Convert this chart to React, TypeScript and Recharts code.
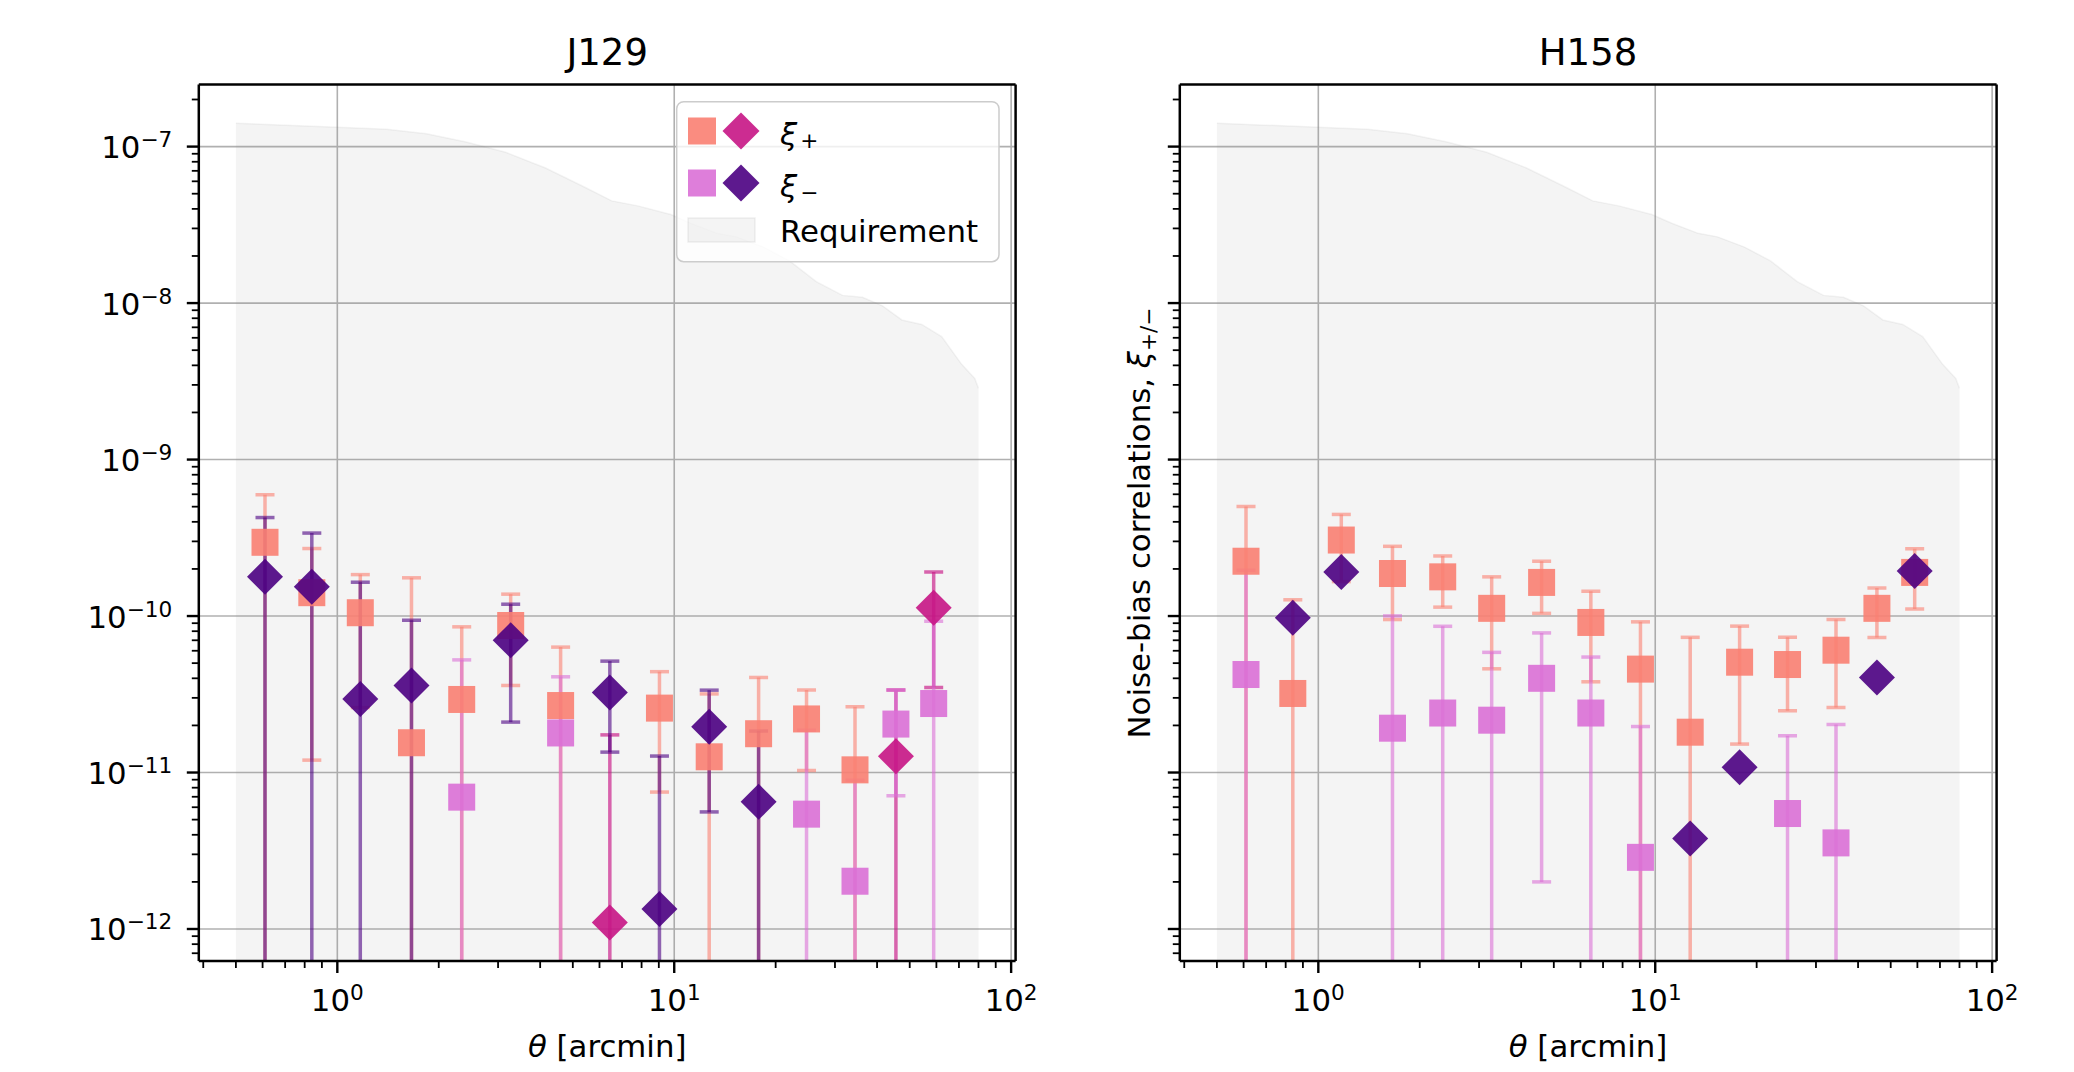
import React from 'react';
import { ComposedChart, Scatter, Area, XAxis, YAxis, CartesianGrid, ErrorBar, ReferenceLine } from 'recharts';

// ---------------- data ----------------
const THETA = [0.61, 0.84, 1.17, 1.66, 2.34, 3.27, 4.6, 6.44, 9.04, 12.7, 17.8, 24.7, 34.4, 45.5, 58.9];

// J129 (signed values: negative values are drawn as diamonds at |value|)
const J129_XI_PLUS = [2.96e-10, 1.41e-10, 1.05e-10, 1.55e-11, 2.93e-11, 8.7e-11, 2.68e-11, -1.1e-12, 2.58e-11, 1.26e-11, 1.77e-11, 2.2e-11, 1.04e-11, -1.27e-11, -1.13e-10];
const J129_XI_PLUS_ERR = [3.0e-10, 1.29e-10, 7.9e-11, 1.6e-10, 5.6e-11, 5.1e-11, 3.65e-11, 1.63e-11, 1.83e-11, 1.92e-11, 2.28e-11, 1.17e-11, 1.59e-11, 2.1e-11, 7.8e-11];
const J129_XI_MINUS = [-1.78e-10, -1.54e-10, -2.95e-11, -3.6e-11, 6.96e-12, -7.0e-11, 1.79e-11, -3.25e-11, -1.34e-12, -1.96e-11, -6.5e-12, 5.42e-12, 2.02e-12, 2.04e-11, 2.76e-11];
const J129_XI_MINUS_ERR = [2.48e-10, 1.85e-10, 1.35e-10, 5.8e-11, 4.55e-11, 4.9e-11, 2.3e-11, 1.9e-11, 1.14e-11, 1.4e-11, 1.19e-11, 1.32e-11, 6.9e-12, 1.33e-11, 6.5e-11];

// H158
const H158_XI_PLUS = [2.24e-10, 3.2e-11, 3.06e-10, 1.87e-10, 1.78e-10, 1.12e-10, 1.64e-10, 9.1e-11, 4.58e-11, 1.81e-11, 5.07e-11, 4.9e-11, 6.05e-11, 1.12e-10, 1.9e-10];
const H158_XI_PLUS_ERR = [2.78e-10, 9.5e-11, 1.4e-10, 9.2e-11, 6.4e-11, 6.6e-11, 6.0e-11, 5.3e-11, 4.6e-11, 5.5e-11, 3.55e-11, 2.42e-11, 3.45e-11, 3.9e-11, 7.9e-11];
const H158_XI_MINUS = [4.23e-11, -9.74e-11, -1.91e-10, 1.92e-11, 2.4e-11, 2.16e-11, 4.0e-11, 2.4e-11, 2.87e-12, -3.79e-12, -1.08e-11, 5.47e-12, 3.55e-12, -4.05e-11, -1.94e-10];
const H158_XI_MINUS_ERR = [1.54e-10, null, null, 8.1e-11, 6.2e-11, 3.7e-11, 3.8e-11, 3.07e-11, 1.68e-11, null, null, 1.17e-11, 1.67e-11, null, null];

// Requirement envelope
const REQ_THETA = [0.5, 1.0, 1.4, 1.84, 2.41, 3.16, 4.15, 5.43, 6.52, 7.8, 9.77, 11.2, 13.4, 15.3, 18.4, 22.0, 26.4, 31.6, 36.2, 41.5, 47.4, 54.3, 62.2, 71.3, 78, 80];
const REQ_VALUE = [1.41e-7, 1.33e-7, 1.29e-7, 1.21e-7, 1.07e-7, 9.2e-8, 7.3e-8, 5.5e-8, 4.5e-8, 4.18e-8, 3.68e-8, 3.24e-8, 2.79e-8, 2.65e-8, 2.28e-8, 1.86e-8, 1.37e-8, 1.12e-8, 1.09e-8, 9.6e-9, 7.8e-9, 7.3e-9, 6.1e-9, 4.06e-9, 3.3e-9, 2.85e-9];

// ticks
const X_MAJOR_TICKS = [1, 10, 100];
const X_MINOR_TICKS = [0.4, 0.5, 0.6, 0.7, 0.8, 0.9, 2, 3, 4, 5, 6, 7, 8, 9, 20, 30, 40, 50, 60, 70, 80, 90];
const Y_MAJOR_TICKS = [1e-12, 1e-11, 1e-10, 1e-9, 1e-8, 1e-7];
const Y_MINOR_TICKS = [
  7e-13, 8e-13, 9e-13,
  2e-12, 3e-12, 4e-12, 5e-12, 6e-12, 7e-12, 8e-12, 9e-12,
  2e-11, 3e-11, 4e-11, 5e-11, 6e-11, 7e-11, 8e-11, 9e-11,
  2e-10, 3e-10, 4e-10, 5e-10, 6e-10, 7e-10, 8e-10, 9e-10,
  2e-9, 3e-9, 4e-9, 5e-9, 6e-9, 7e-9, 8e-9, 9e-9,
  2e-8, 3e-8, 4e-8, 5e-8, 6e-8, 7e-8, 8e-8, 9e-8,
  2e-7,
];

const X_DOMAIN: [number, number] = [0.388, 103.1];
const Y_DOMAIN: [number, number] = [Math.pow(10, -12.2045), Math.pow(10, -6.6025)];
const FLOOR = 1e-15;

// ---------------- layout / style ----------------
const CHART_W = 1040;
const CHART_H = 1072;
const M_TOP = 84.4;
const M_RIGHT = 24.4;
const Y_AXIS_W = 198.8;
const X_AXIS_H = 111;
const PLOT_X0 = Y_AXIS_W;
const PLOT_X1 = CHART_W - M_RIGHT;
const PLOT_Y0 = M_TOP;
const PLOT_Y1 = CHART_H - X_AXIS_H;

const FONT = "'DejaVu Sans', sans-serif";
const C_XIP_POS = '#fa8072';
const C_XIP_NEG = '#c71585';
const C_XIM_POS = '#da70d6';
const C_XIM_NEG = '#4b0082';
const E_XIP_POS = 'rgba(250,128,114,0.6)';
const E_XIP_NEG = 'rgba(199,21,133,0.65)';
const E_XIM_POS = 'rgba(218,112,214,0.6)';
const E_XIM_NEG = 'rgba(75,0,130,0.6)';

const REQ_DATA = REQ_THETA.map((x, i) => ({ x, y: REQ_VALUE[i] }));

function buildPoints(values: number[], errs: (number | null)[], positive: boolean) {
  const out: any[] = [];
  THETA.forEach((t, i) => {
    const v = values[i];
    if ((v > 0) !== positive) return;
    const a = Math.abs(v);
    const s = errs[i];
    const err = s == null ? null : [a - s > 0 ? s : a - FLOOR, s];
    out.push({ x: t, y: a, err });
  });
  return out;
}

const isMajor = (v: number) => Math.abs(Math.log10(v) - Math.round(Math.log10(v))) < 1e-6;
const expText = (v: number) => {
  const e = Math.round(Math.log10(v));
  return e < 0 ? '\u2212' + Math.abs(e) : String(e);
};

const XTick = (props: any) => {
  const { x, y, payload } = props;
  const v = payload.value;
  const major = isMajor(v);
  return (
    <g>
      <line x1={x} x2={x} y1={y} y2={y + (major ? 12 : 7)} stroke="#000" strokeWidth={major ? 2.4 : 1.8} />
      {major && (
        <text x={x} y={y + 50} textAnchor="middle" fontSize={30.8} fontFamily={FONT} fill="#000">
          10<tspan dy={-11} fontSize={21.6}>{expText(v)}</tspan>
        </text>
      )}
    </g>
  );
};

const YTick = (props: any) => {
  const { x, y, payload, showLabel } = props;
  const v = payload.value;
  const major = isMajor(v);
  return (
    <g>
      <line x1={x} x2={x - (major ? 12 : 7)} y1={y} y2={y} stroke="#000" strokeWidth={major ? 2.4 : 1.8} />
      {major && showLabel && (
        <text x={x - 26.5} y={y + 11.5} textAnchor="end" fontSize={30.8} fontFamily={FONT} fill="#000">
          10<tspan dy={-11} fontSize={21.6}>{expText(v)}</tspan>
        </text>
      )}
    </g>
  );
};

const squareShape = (color: string) => (p: any) => {
  if (p.cx == null || p.cy == null) return <g />;
  return <rect x={p.cx - 13.5} y={p.cy - 13.5} width={27} height={27} fill={color} fillOpacity={0.9} />;
};
const diamondShape = (color: string) => (p: any) => {
  if (p.cx == null || p.cy == null) return <g />;
  const r = 18;
  return (
    <polygon
      points={`${p.cx},${p.cy - r} ${p.cx + r},${p.cy} ${p.cx},${p.cy + r} ${p.cx - r},${p.cy}`}
      fill={color}
      fillOpacity={0.9}
    />
  );
};

const X_TICKS = [...X_MINOR_TICKS, ...X_MAJOR_TICKS].sort((a, b) => a - b);
const Y_TICKS = [...Y_MINOR_TICKS, ...Y_MAJOR_TICKS].sort((a, b) => a - b);

const Panel = ({ left, xip, xipErr, xim, ximErr, showLabels }: any) => {
  const series = [
    { key: 'xip-pos', data: buildPoints(xip, xipErr, true), shape: squareShape(C_XIP_POS), bar: E_XIP_POS },
    { key: 'xip-neg', data: buildPoints(xip, xipErr, false), shape: diamondShape(C_XIP_NEG), bar: E_XIP_NEG },
    { key: 'xim-pos', data: buildPoints(xim, ximErr, true), shape: squareShape(C_XIM_POS), bar: E_XIM_POS },
    { key: 'xim-neg', data: buildPoints(xim, ximErr, false), shape: diamondShape(C_XIM_NEG), bar: E_XIM_NEG },
  ].filter((s) => s.data.length > 0);
  return (
    <div style={{ position: 'absolute', left, top: 0 }}>
      <ComposedChart width={CHART_W} height={CHART_H} data={REQ_DATA} margin={{ top: M_TOP, right: M_RIGHT, bottom: 0, left: 0 }}>
        <CartesianGrid
          horizontalValues={Y_MAJOR_TICKS}
          verticalValues={X_MAJOR_TICKS}
          stroke="#b0b0b0"
          strokeWidth={1.6}
        />
        <XAxis
          dataKey="x"
          type="number"
          scale="log"
          domain={X_DOMAIN}
          allowDataOverflow
          ticks={X_TICKS}
          interval={0}
          tickSize={0}
          tickMargin={0}
          tickLine={false}
          tick={(p: any) => <XTick {...p} />}
          axisLine={{ stroke: '#000', strokeWidth: 2.5 }}
          height={X_AXIS_H}
        />
        <YAxis
          dataKey="y"
          type="number"
          scale="log"
          domain={Y_DOMAIN}
          allowDataOverflow
          ticks={Y_TICKS}
          interval={0}
          tickSize={0}
          tickMargin={0}
          tickLine={false}
          tick={(p: any) => <YTick {...p} showLabel={showLabels} />}
          axisLine={{ stroke: '#000', strokeWidth: 2.5 }}
          width={Y_AXIS_W}
        />
        <Area
          dataKey="y"
          type="linear"
          baseValue={Y_DOMAIN[0]}
          fill="#808080"
          fillOpacity={0.09}
          stroke="#808080"
          strokeOpacity={0.09}
          strokeWidth={1.5}
          dot={false}
          activeDot={false}
          isAnimationActive={false}
        />
        {series.map((s) => (
          <Scatter key={s.key} className="plot-clip" data={s.data} shape={s.shape} isAnimationActive={false}>
            <ErrorBar dataKey="err" direction="y" width={9.5} stroke={s.bar} strokeWidth={3.5} />
          </Scatter>
        ))}
        <ReferenceLine y={Y_DOMAIN[1]} stroke="#000" strokeWidth={2.5} ifOverflow="visible" />
        <ReferenceLine x={X_DOMAIN[1]} stroke="#000" strokeWidth={2.5} ifOverflow="visible" />
      </ComposedChart>
    </div>
  );
};

const Diamond = ({ cx, cy, color }: any) => (
  <polygon points={`${cx},${cy - 18.5} ${cx + 18.5},${cy} ${cx},${cy + 18.5} ${cx - 18.5},${cy}`} fill={color} fillOpacity={0.9} />
);

const Overlay = () => (
  <svg width={2074} height={1072} style={{ position: 'absolute', left: 0, top: 0, pointerEvents: 'none' }} fontFamily={FONT}>
    <text x={607.2} y={65} textAnchor="middle" fontSize={37} fill="#000">J129</text>
    <text x={1588} y={65} textAnchor="middle" fontSize={37} fill="#000">H158</text>
    <text x={607.2} y={1056.5} textAnchor="middle" fontSize={30.8} fill="#000">
      <tspan fontStyle="italic">θ</tspan> [arcmin]
    </text>
    <text x={1588} y={1056.5} textAnchor="middle" fontSize={30.8} fill="#000">
      <tspan fontStyle="italic">θ</tspan> [arcmin]
    </text>
    <text transform="translate(1150,523) rotate(-90)" textAnchor="middle" fontSize={30.8} fill="#000">
      Noise-bias correlations, <tspan fontStyle="italic">ξ</tspan>
      <tspan fontSize={21.6} dy={6}>+/−</tspan>
    </text>
    {/* legend */}
    <rect x={676.7} y={101.7} width={322.3} height={160} rx={7} fill="rgba(255,255,255,0.8)" stroke="#cccccc" strokeWidth={1.5} />
    <rect x={688} y={117.5} width={28} height={27} fill={C_XIP_POS} fillOpacity={0.9} />
    <Diamond cx={741} cy={131} color={C_XIP_NEG} />
    <text x={780} y={145} fontSize={30.8} fill="#000">
      <tspan fontStyle="italic">ξ</tspan>
      <tspan fontSize={21.6} dy={3} dx={3}>+</tspan>
    </text>
    <rect x={688} y={169.5} width={28} height={27} fill={C_XIM_POS} fillOpacity={0.9} />
    <Diamond cx={741} cy={183} color={C_XIM_NEG} />
    <text x={780} y={197} fontSize={30.8} fill="#000">
      <tspan fontStyle="italic">ξ</tspan>
      <tspan fontSize={21.6} dy={3} dx={3}>−</tspan>
    </text>
    <rect x={688} y={218} width={67} height={24} fill="#808080" fillOpacity={0.09} stroke="#808080" strokeOpacity={0.12} strokeWidth={1.5} />
    <text x={780} y={241.7} fontSize={30.8} fill="#000">Requirement</text>
  </svg>
);

export default function App() {
  return (
    <div style={{ position: 'absolute', left: 0, top: 0, width: 2074, height: 1072, background: '#fff' }}>
      <style>{`.plot-clip, .recharts-errorBar { clip-path: url(#plotAreaClip); }`}</style>
      <svg width={0} height={0} style={{ position: 'absolute' }}>
        <defs>
          <clipPath id="plotAreaClip" clipPathUnits="userSpaceOnUse">
            <rect x={PLOT_X0} y={PLOT_Y0} width={PLOT_X1 - PLOT_X0} height={PLOT_Y1 - PLOT_Y0} />
          </clipPath>
        </defs>
      </svg>
      <Panel left={0} xip={J129_XI_PLUS} xipErr={J129_XI_PLUS_ERR} xim={J129_XI_MINUS} ximErr={J129_XI_MINUS_ERR} showLabels={true} />
      <Panel left={980.7} xip={H158_XI_PLUS} xipErr={H158_XI_PLUS_ERR} xim={H158_XI_MINUS} ximErr={H158_XI_MINUS_ERR} showLabels={false} />
      <Overlay />
    </div>
  );
}
